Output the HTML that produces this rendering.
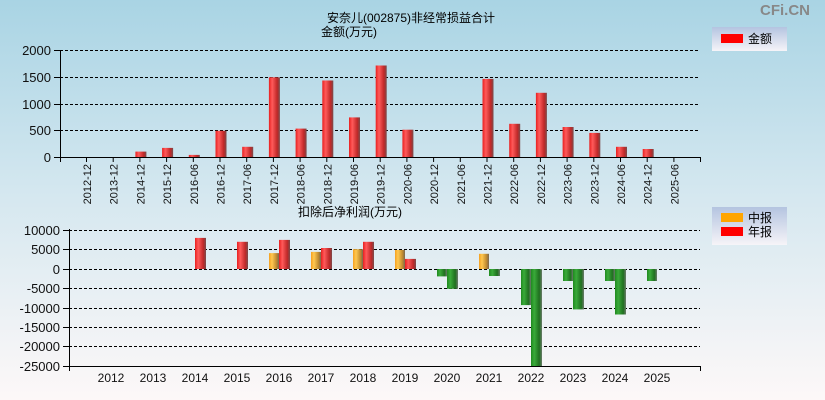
<!DOCTYPE html>
<html><head><meta charset="utf-8"><style>
html,body{margin:0;padding:0;width:825px;height:400px;overflow:hidden}
svg{display:block;font-family:"Liberation Sans","Noto Sans CJK SC",sans-serif}
</style></head><body>
<svg width="825" height="400" xmlns="http://www.w3.org/2000/svg">
<defs>
<linearGradient id="bg" x1="0" y1="0" x2="0" y2="1"><stop offset="0" stop-color="#a9d4e4"/><stop offset="0.5" stop-color="#d6e8f0"/><stop offset="1" stop-color="#fdf8f8"/></linearGradient>
<linearGradient id="r" x1="0" x2="1"><stop offset="0" stop-color="#e82020"/><stop offset="0.3" stop-color="#ff5a5a"/><stop offset="0.75" stop-color="#c02828"/><stop offset="1" stop-color="#7a4a4a"/></linearGradient>
<linearGradient id="y" x1="0" x2="1"><stop offset="0" stop-color="#f5a020"/><stop offset="0.3" stop-color="#ffc850"/><stop offset="0.75" stop-color="#c08a30"/><stop offset="1" stop-color="#7a6a50"/></linearGradient>
<linearGradient id="g" x1="0" x2="1"><stop offset="0" stop-color="#1f8a1f"/><stop offset="0.3" stop-color="#3aaa3a"/><stop offset="0.75" stop-color="#1f701f"/><stop offset="1" stop-color="#6a7a6a"/></linearGradient>
<linearGradient id="lg" x1="0" y1="0" x2="0" y2="1"><stop offset="0" stop-color="#b4c4e0"/><stop offset="1" stop-color="#f6f4f8"/></linearGradient>
</defs>
<rect width="825" height="400" fill="url(#bg)"/>
<text x="810" y="15" font-size="15" font-weight="bold" fill="#888" text-anchor="end">CFi.CN</text>
<text x="411" y="22" font-size="12" text-anchor="middle">安奈儿(002875)非经常损益合计</text>
<text x="349" y="36" font-size="12" text-anchor="middle">金额(万元)</text>
<g stroke="#000" stroke-dasharray="3,2" stroke-width="1">
<line x1="60" y1="50.5" x2="700" y2="50.5"/><line x1="60" y1="77.5" x2="700" y2="77.5"/><line x1="60" y1="104.5" x2="700" y2="104.5"/><line x1="60" y1="130.5" x2="700" y2="130.5"/>
</g>
<g font-size="13" text-anchor="end" fill="#111">
<text x="51" y="55">2000</text><text x="51" y="82">1500</text><text x="51" y="109">1000</text><text x="51" y="135">500</text><text x="51" y="162">0</text>
</g>
<g stroke="#000"><line x1="60.5" y1="50" x2="60.5" y2="162"/><line x1="54" y1="157.5" x2="700" y2="157.5"/><line x1="700.5" y1="157" x2="700.5" y2="162"/>
<line x1="54" y1="50.5" x2="60" y2="50.5"/><line x1="54" y1="77.5" x2="60" y2="77.5"/><line x1="54" y1="104.5" x2="60" y2="104.5"/><line x1="54" y1="130.5" x2="60" y2="130.5"/></g>
<g fill="url(#r)">
<rect x="135.4" y="151.6" width="11" height="5.4"/><rect x="162.1" y="147.9" width="11" height="9.1"/><rect x="188.8" y="154.9" width="11" height="2.1"/><rect x="215.5" y="130.8" width="11" height="26.2"/><rect x="242.2" y="146.8" width="11" height="10.2"/><rect x="268.9" y="77.3" width="11" height="79.7"/><rect x="295.6" y="128.6" width="11" height="28.4"/><rect x="322.3" y="80.5" width="11" height="76.5"/><rect x="349" y="117.4" width="11" height="39.6"/><rect x="375.7" y="65.5" width="11" height="91.5"/><rect x="402.4" y="129.7" width="11" height="27.3"/><rect x="482.5" y="78.9" width="11" height="78.1"/><rect x="509.2" y="123.8" width="11" height="33.2"/><rect x="535.9" y="92.8" width="11" height="64.2"/><rect x="562.6" y="127" width="11" height="30"/><rect x="589.3" y="132.9" width="11" height="24.1"/><rect x="616" y="146.8" width="11" height="10.2"/><rect x="642.7" y="149" width="11" height="8"/>
</g>
<g stroke="#000">
<line x1="86.5" y1="157" x2="86.5" y2="162"/><line x1="113.2" y1="157" x2="113.2" y2="162"/><line x1="139.9" y1="157" x2="139.9" y2="162"/><line x1="166.6" y1="157" x2="166.6" y2="162"/><line x1="193.3" y1="157" x2="193.3" y2="162"/><line x1="220" y1="157" x2="220" y2="162"/><line x1="246.7" y1="157" x2="246.7" y2="162"/><line x1="273.4" y1="157" x2="273.4" y2="162"/><line x1="300.1" y1="157" x2="300.1" y2="162"/><line x1="326.8" y1="157" x2="326.8" y2="162"/><line x1="353.5" y1="157" x2="353.5" y2="162"/><line x1="380.2" y1="157" x2="380.2" y2="162"/><line x1="406.9" y1="157" x2="406.9" y2="162"/><line x1="433.6" y1="157" x2="433.6" y2="162"/><line x1="460.3" y1="157" x2="460.3" y2="162"/><line x1="487" y1="157" x2="487" y2="162"/><line x1="513.7" y1="157" x2="513.7" y2="162"/><line x1="540.4" y1="157" x2="540.4" y2="162"/><line x1="567.1" y1="157" x2="567.1" y2="162"/><line x1="593.8" y1="157" x2="593.8" y2="162"/><line x1="620.5" y1="157" x2="620.5" y2="162"/><line x1="647.2" y1="157" x2="647.2" y2="162"/><line x1="673.9" y1="157" x2="673.9" y2="162"/>
</g>
<g font-size="11" text-anchor="end" fill="#111">
<text transform="translate(91,164) rotate(-90)">2012-12</text><text transform="translate(117.7,164) rotate(-90)">2013-12</text><text transform="translate(144.4,164) rotate(-90)">2014-12</text><text transform="translate(171.1,164) rotate(-90)">2015-12</text><text transform="translate(197.8,164) rotate(-90)">2016-06</text><text transform="translate(224.5,164) rotate(-90)">2016-12</text><text transform="translate(251.2,164) rotate(-90)">2017-06</text><text transform="translate(277.9,164) rotate(-90)">2017-12</text><text transform="translate(304.6,164) rotate(-90)">2018-06</text><text transform="translate(331.3,164) rotate(-90)">2018-12</text><text transform="translate(358,164) rotate(-90)">2019-06</text><text transform="translate(384.7,164) rotate(-90)">2019-12</text><text transform="translate(411.4,164) rotate(-90)">2020-06</text><text transform="translate(438.1,164) rotate(-90)">2020-12</text><text transform="translate(464.8,164) rotate(-90)">2021-06</text><text transform="translate(491.5,164) rotate(-90)">2021-12</text><text transform="translate(518.2,164) rotate(-90)">2022-06</text><text transform="translate(544.9,164) rotate(-90)">2022-12</text><text transform="translate(571.6,164) rotate(-90)">2023-06</text><text transform="translate(598.3,164) rotate(-90)">2023-12</text><text transform="translate(625,164) rotate(-90)">2024-06</text><text transform="translate(651.7,164) rotate(-90)">2024-12</text><text transform="translate(678.4,164) rotate(-90)">2025-06</text>
</g>
<rect x="712" y="27" width="75" height="24" fill="url(#lg)"/>
<rect x="721" y="34" width="22" height="9" fill="#ff0000"/>
<text x="748" y="43" font-size="12">金额</text>

<text x="350" y="216" font-size="12" text-anchor="middle">扣除后净利润(万元)</text>
<g stroke="#000" stroke-dasharray="3,2" stroke-width="1">
<line x1="69" y1="230.5" x2="700" y2="230.5"/><line x1="69" y1="249.5" x2="700" y2="249.5"/><line x1="69" y1="269.5" x2="700" y2="269.5"/><line x1="69" y1="288.5" x2="700" y2="288.5"/><line x1="69" y1="308.5" x2="700" y2="308.5"/><line x1="69" y1="327.5" x2="700" y2="327.5"/><line x1="69" y1="346.5" x2="700" y2="346.5"/>
</g>
<g font-size="13" text-anchor="end" fill="#111">
<text x="60" y="235">10000</text><text x="60" y="254">5000</text><text x="60" y="274">0</text><text x="60" y="293">-5000</text><text x="60" y="313">-10000</text><text x="60" y="332">-15000</text><text x="60" y="351">-20000</text><text x="60" y="371">-25000</text>
</g>
<g fill="url(#r)">
<rect x="195" y="237.9" width="11" height="31.1"/><rect x="237" y="241.8" width="11" height="27.2"/><rect x="279" y="239.9" width="11" height="29.1"/><rect x="321" y="248" width="11" height="21"/><rect x="363" y="241.8" width="11" height="27.2"/><rect x="405" y="258.9" width="11" height="10.1"/>
</g>
<g fill="url(#y)">
<rect x="269" y="253.1" width="10" height="15.9"/><rect x="311" y="251.9" width="10" height="17.1"/><rect x="353" y="249.2" width="10" height="19.8"/><rect x="395" y="250" width="10" height="19"/><rect x="479" y="253.8" width="10" height="15.2"/>
</g>
<g fill="url(#g)">
<rect x="437" y="269" width="10" height="7.4"/><rect x="447" y="269" width="11" height="19.8"/><rect x="489" y="269" width="11" height="7"/><rect x="521" y="269" width="10" height="36.1"/><rect x="531" y="269" width="11" height="97"/><rect x="563" y="269" width="10" height="12"/><rect x="573" y="269" width="11" height="40.4"/><rect x="605" y="269" width="10" height="12"/><rect x="615" y="269" width="11" height="45.5"/><rect x="647" y="269" width="10" height="12"/>
</g>
<g stroke="#000">
<line x1="69.5" y1="229" x2="69.5" y2="371"/><line x1="63" y1="366.5" x2="700" y2="366.5"/><line x1="700.5" y1="366" x2="700.5" y2="371"/>
<line x1="63" y1="230.5" x2="69" y2="230.5"/><line x1="63" y1="249.5" x2="69" y2="249.5"/><line x1="63" y1="269.5" x2="69" y2="269.5"/><line x1="63" y1="288.5" x2="69" y2="288.5"/><line x1="63" y1="308.5" x2="69" y2="308.5"/><line x1="63" y1="327.5" x2="69" y2="327.5"/><line x1="63" y1="346.5" x2="69" y2="346.5"/>
</g>
<g font-size="12" text-anchor="middle" fill="#111">
<text x="111" y="382">2012</text><text x="153" y="382">2013</text><text x="195" y="382">2014</text><text x="237" y="382">2015</text><text x="279" y="382">2016</text><text x="321" y="382">2017</text><text x="363" y="382">2018</text><text x="405" y="382">2019</text><text x="447" y="382">2020</text><text x="489" y="382">2021</text><text x="531" y="382">2022</text><text x="573" y="382">2023</text><text x="615" y="382">2024</text><text x="657" y="382">2025</text>
</g>
<rect x="712" y="207" width="75" height="38" fill="url(#lg)"/>
<rect x="721" y="213" width="22" height="9" fill="#ffa500"/>
<rect x="721" y="227" width="22" height="9" fill="#ff0000"/>
<text x="748" y="222" font-size="12">中报</text>
<text x="748" y="236" font-size="12">年报</text>
</svg>
</body></html>
